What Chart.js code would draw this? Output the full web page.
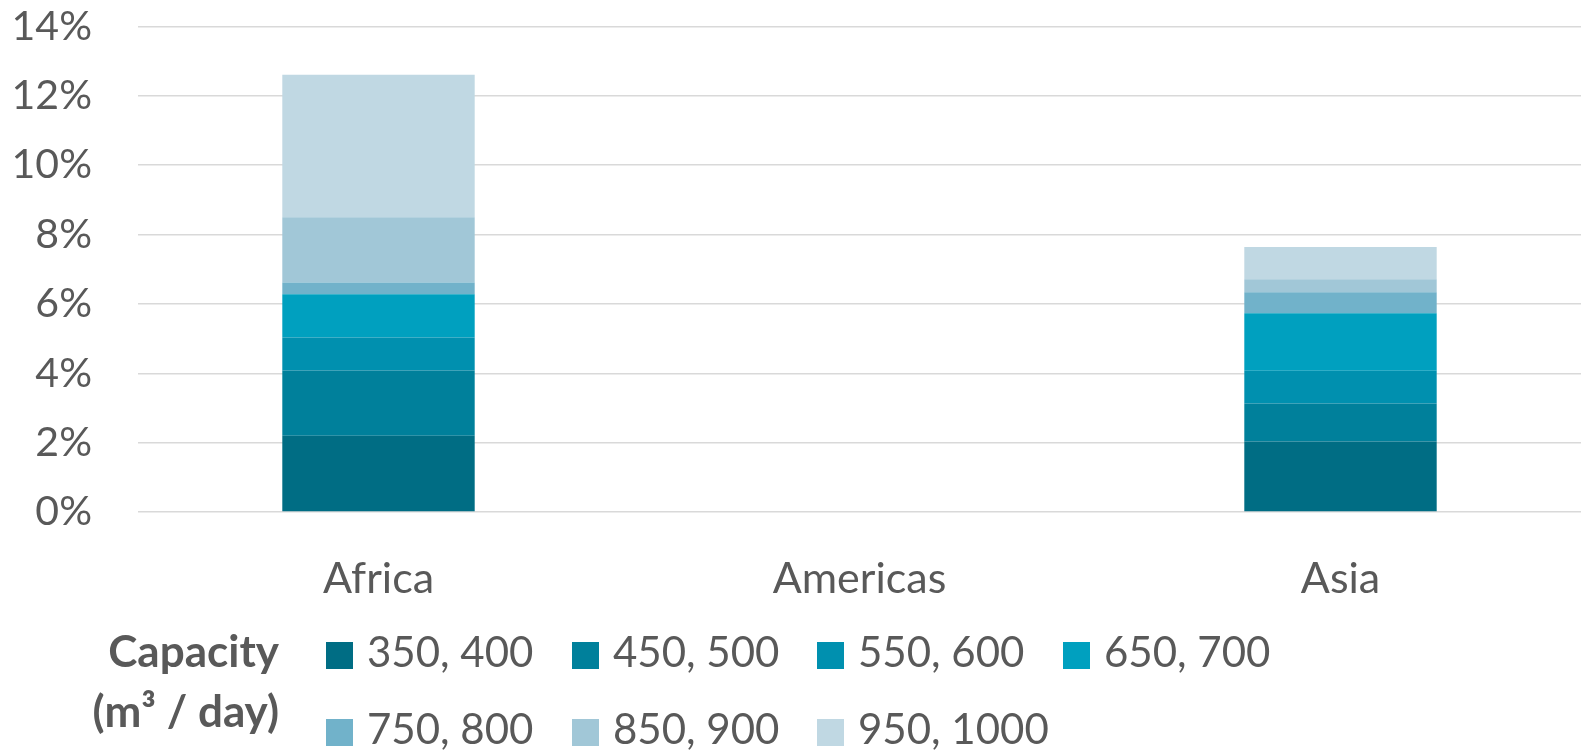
<!DOCTYPE html>
<html>
<head>
<meta charset="utf-8">
<script src="https://cdn.jsdelivr.net/npm/chart.js@4"></script>
<style>
  html, body { margin: 0; padding: 0; background: #fff; }
  #wrap { position: relative; width: 1581px; height: 751px; overflow: hidden; }
  #legend {
    position: absolute; left: 0; top: 628px; width: 1581px; height: 123px;
    font-family: Lato, "Open Sans", sans-serif; color: #595959;
  }
  #legend .title {
    position: absolute; right: calc(1581px - 279px); top: -8px;
    font-weight: bold; font-size: 44px; line-height: 60px; text-align: right; white-space: nowrap;
  }
  #legend .item {
    position: absolute; display: flex; align-items: center; font-size: 42px; height: 56px; white-space: nowrap;
  }
  #legend .swatch { width: 27px; height: 27px; margin-right: 14px; transform: translateY(4px); }
</style>
</head>
<body>
<div id="wrap">
  <canvas id="chart" width="1581" height="751"></canvas>
  <div id="legend"></div>
</div>
<script>
const regions = ["Africa", "Americas", "Asia"];
const capacityBands = ["350, 400", "450, 500", "550, 600", "650, 700", "750, 800", "850, 900", "950, 1000"];
const bandColors = ["#006D84", "#00809B", "#0090AF", "#00A0BF", "#71B2CA", "#A1C7D7", "#C0D8E3"];

// share of plants (%) per region, one array per capacity band
const band350 = [2.20, 0, 2.03];
const band450 = [1.88, 0, 1.10];
const band550 = [0.95, 0, 0.94];
const band650 = [1.25, 0, 1.66];
const band750 = [0.34, 0, 0.61];
const band850 = [1.88, 0, 0.37];
const band950 = [4.11, 0, 0.93];

const yTicks = [0, 2, 4, 6, 8, 10, 12, 14];

const bandValues = [band350, band450, band550, band650, band750, band850, band950];
const textColor = "#595959";
const fontFamily = 'Lato, "Open Sans", sans-serif';

const chart = new Chart(document.getElementById("chart"), {
  type: "bar",
  data: {
    labels: regions,
    datasets: capacityBands.map((band, i) => ({
      label: band,
      data: bandValues[i],
      backgroundColor: bandColors[i],
      borderWidth: 0,
      barPercentage: 0.4,
      categoryPercentage: 1,
    })),
  },
  options: {
    responsive: false,
    animation: false,
    layout: { padding: { top: 26.5, right: 0, left: 0, bottom: 139 } },
    plugins: {
      legend: { display: false },
      tooltip: { enabled: false },
    },
    scales: {
      x: {
        stacked: true,
        grid: { display: false },
        border: { display: false },
        ticks: {
          color: textColor,
          font: { family: fontFamily, size: 43 },
          padding: 33,
        },
        afterFit(scale) {
          scale.height = 100;
          scale.paddingLeft = 0;
          scale.paddingRight = 0;
        },
      },
      y: {
        stacked: true,
        min: 0,
        max: 14,
        afterBuildTicks(scale) { scale.ticks = yTicks.map(v => ({ value: v })); },
        grid: { color: "#D9D9D9", lineWidth: 1.5, drawTicks: false },
        border: { display: false },
        ticks: {
          color: textColor,
          font: { family: fontFamily, size: 41 },
          padding: 46,
          callback: v => v + "%",
        },
        afterFit(scale) {
          scale.width = 138;
          scale.paddingTop = 0;
          scale.paddingBottom = 0;
        },
      },
    },
  },
});

// legend: bold title on the left, items in a 4-column grid
const legend = document.getElementById("legend");
const title = document.createElement("div");
title.className = "title";
title.innerHTML = "Capacity<br>(m³ / day)";
legend.appendChild(title);

const columnX = [326, 572, 817, 1063];
const rowY = [-5, 72];
chart.data.datasets.forEach((ds, i) => {
  const item = document.createElement("div");
  item.className = "item";
  item.style.left = columnX[i % 4] + "px";
  item.style.top = rowY[Math.floor(i / 4)] + "px";
  const sw = document.createElement("span");
  sw.className = "swatch";
  sw.style.background = ds.backgroundColor;
  const txt = document.createElement("span");
  txt.textContent = ds.label;
  item.appendChild(sw);
  item.appendChild(txt);
  legend.appendChild(item);
});
</script>
</body>
</html>
